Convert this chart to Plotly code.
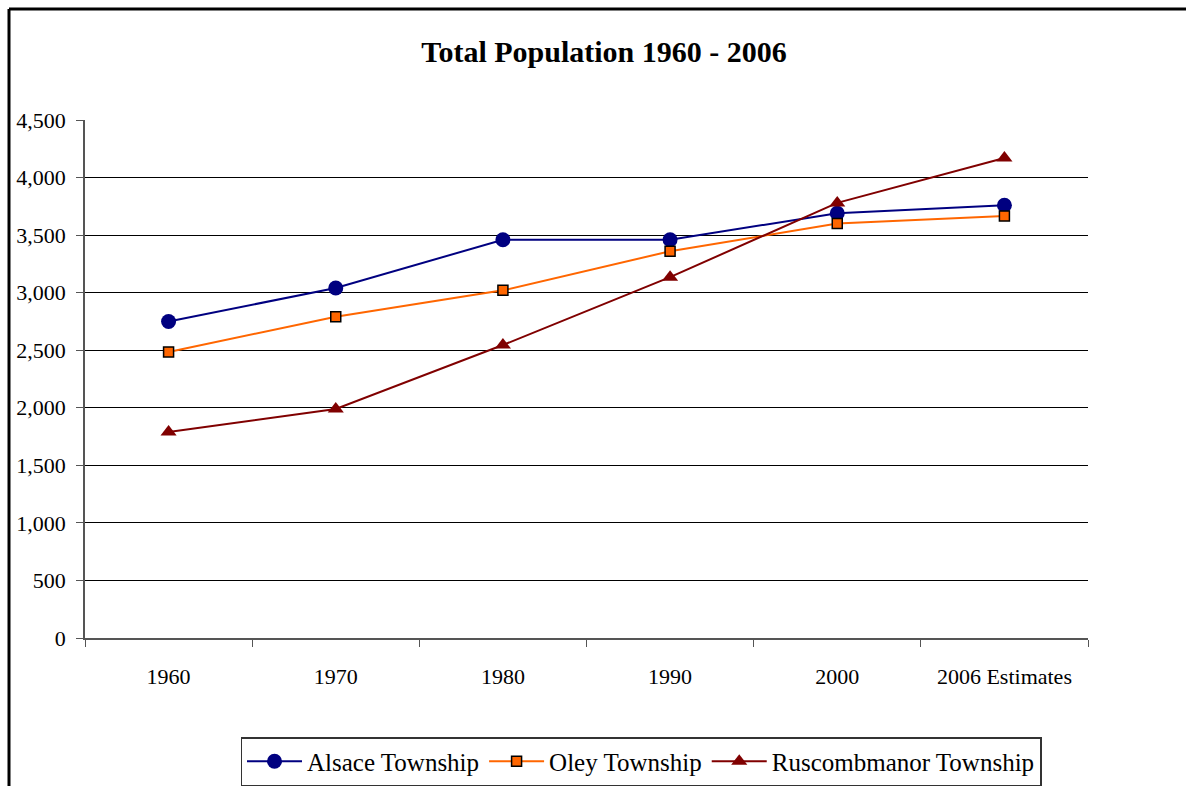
import plotly.graph_objects as go

categories = ["1960", "1970", "1980", "1990", "2000", "2006 Estimates"]
alsace = [2750, 3040, 3460, 3460, 3690, 3760]
oley = [2485, 2790, 3020, 3360, 3600, 3665]
ruscombmanor = [1790, 1990, 2545, 3135, 3780, 4170]
y_ticks = [0, 500, 1000, 1500, 2000, 2500, 3000, 3500, 4000, 4500]

FONT = "Liberation Serif, Times New Roman, serif"

fig = go.Figure()
fig.add_trace(go.Scatter(x=categories, y=alsace, name="Alsace Township", mode="lines+markers",
                         line=dict(color="#000080", width=2),
                         marker=dict(symbol="circle", size=15, color="#000080")))
fig.add_trace(go.Scatter(x=categories, y=oley, name="Oley Township", mode="lines+markers",
                         line=dict(color="#FF6600", width=2),
                         marker=dict(symbol="square", size=10, color="#FF6600",
                                     line=dict(color="black", width=1.5))))
fig.add_trace(go.Scatter(x=categories, y=ruscombmanor, name="Ruscombmanor Township", mode="lines+markers",
                         line=dict(color="#800000", width=2),
                         marker=dict(symbol="triangle-up", size=14, color="#800000")))

W, H = 1186, 786
L, R, T, B = 85, 98, 120, 148
pw, ph = W - L - R, H - T - B

def px_x(p):
    return (p - L) / pw

def px_y(p):
    return (H - B - p) / ph

fig.update_layout(
    width=W, height=H,
    margin=dict(l=L, r=R, t=T, b=B, autoexpand=False),
    paper_bgcolor="white", plot_bgcolor="white",
    font=dict(family=FONT, size=22, color="black"),
    title=dict(text="<b>Total Population 1960 - 2006</b>", x=604 / W,
               xanchor="center", y=1 - 51 / H, yanchor="middle",
               font=dict(family=FONT, size=30, color="black")),
    showlegend=True,
    legend=dict(orientation="h", x=px_x(641), xanchor="center", y=px_y(737), yanchor="top",
                bordercolor="#333333", borderwidth=1.5, bgcolor="white",
                font=dict(family=FONT, size=25), itemwidth=55, tracegroupgap=0),
    xaxis=dict(type="category", tickson="boundaries", ticks="outside", ticklen=7,
               tickcolor="#555555", showline=True, linecolor="#555555", linewidth=1.5,
               showgrid=False, range=[-0.5, 5.5], zeroline=False, ticklabelstandoff=18,
               automargin=False),
    yaxis=dict(range=[0, 4500], tickvals=y_ticks, tickformat=",", ticks="outside", ticklen=7,
               tickcolor="#555555", showline=True, linecolor="#555555", linewidth=1.5,
               showgrid=True, gridcolor="black", gridwidth=1, zeroline=False,
               ticklabelstandoff=6, automargin=False),
    shapes=[
        dict(type="line", xref="paper", yref="paper", x0=px_x(9), x1=px_x(1200),
             y0=px_y(9), y1=px_y(9), line=dict(color="black", width=3)),
        dict(type="line", xref="paper", yref="paper", x0=px_x(9), x1=px_x(9),
             y0=px_y(9), y1=px_y(800), line=dict(color="black", width=3)),
    ],
)

fig.write_html("out.html", config={"displayModeBar": False},
               post_script="document.body.style.margin='0';document.body.style.overflow='hidden';")
